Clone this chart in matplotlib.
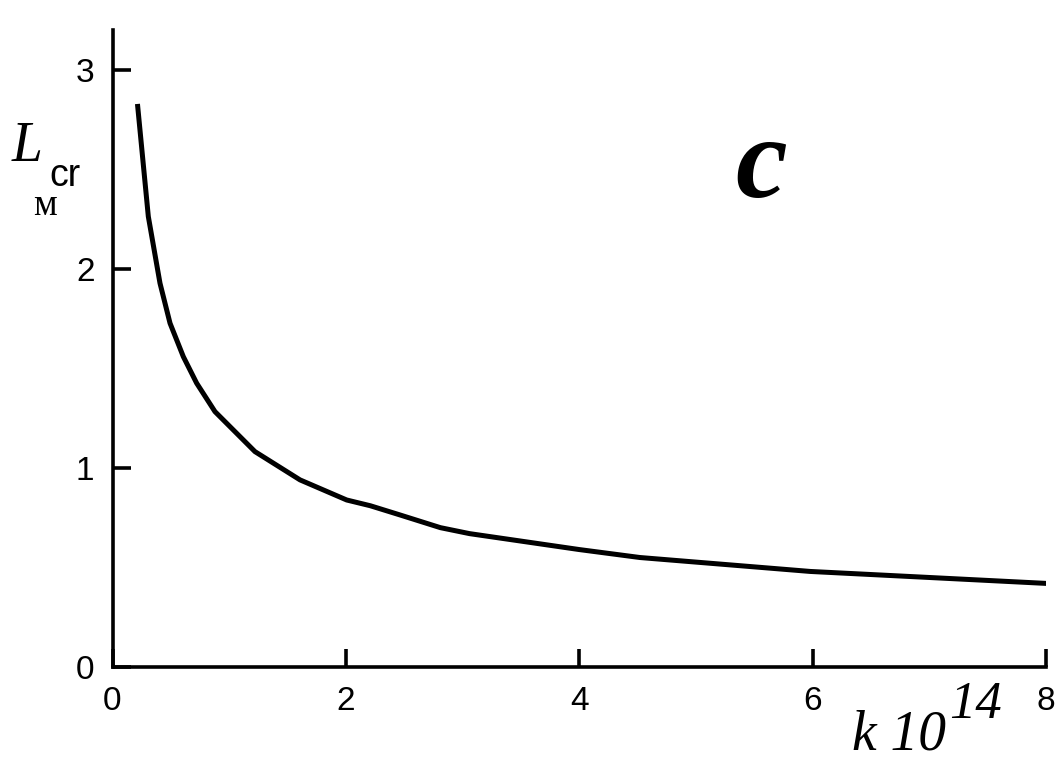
import matplotlib
matplotlib.use("Agg")
import matplotlib.pyplot as plt

k_vals = [0.216, 0.307, 0.407, 0.493, 0.607, 0.721, 0.878, 1.221, 1.607, 2.007,
          2.21, 2.463, 2.81, 3.06, 4.0, 4.52, 5.98, 8.0]
L_vals = [2.816, 2.263, 1.928, 1.727, 1.559, 1.426, 1.283, 1.082, 0.940, 0.839,
          0.81, 0.764, 0.70, 0.67, 0.59, 0.55, 0.48, 0.42]
x_ticks = [0, 2, 4, 6, 8]
y_ticks = [0, 1, 2, 3]

W, H = 1063, 773
fig = plt.figure(figsize=(W / 100, H / 100), dpi=100)
ax = fig.add_axes([112.5 / W, (H - 667) / H, (1046 - 112.5) / W, (667 - 30) / H])
ax.plot(k_vals, L_vals, color="black", lw=3.6, solid_joinstyle="miter")
ax.set_xlim(0, 8)
ax.set_ylim(0, 3.2)
for s in ["top", "right"]:
    ax.spines[s].set_visible(False)
for s in ["left", "bottom"]:
    ax.spines[s].set_linewidth(2.6)
ax.set_xticks(x_ticks)
ax.set_yticks(y_ticks)
ax.set_xticklabels([str(v) for v in x_ticks], fontsize=24, family="Liberation Sans")
ax.set_yticklabels([str(v) for v in y_ticks], fontsize=24, family="Liberation Sans")
ax.tick_params(direction="in", length=13, width=2.6)
ax.tick_params(axis="x", pad=14)
ax.tick_params(axis="y", pad=13)

fig.text(27 / W, 1 - 147 / H, "L", fontsize=40, family="Liberation Serif",
         style="italic", ha="center", va="center")
fig.text(65 / W, 1 - 176 / H, "cr", fontsize=27, family="Liberation Sans",
         ha="center", va="center")
fig.text(45 / W, 1 - 206 / H, "м", fontsize=27, family="Liberation Serif",
         ha="center", va="center")
fig.text(946 / W, 1 - 750 / H, "k 10", fontsize=40, family="Liberation Serif",
         style="italic", ha="right", va="baseline")
fig.text(949 / W, 1 - 718 / H, "14", fontsize=38, family="Liberation Serif",
         style="italic", ha="left", va="baseline")
fig.text(761 / W, 1 - 169 / H, "c", fontsize=84, family="Liberation Serif",
         style="italic", weight="bold", ha="center", va="center")

fig.savefig("out.png", dpi=100)
